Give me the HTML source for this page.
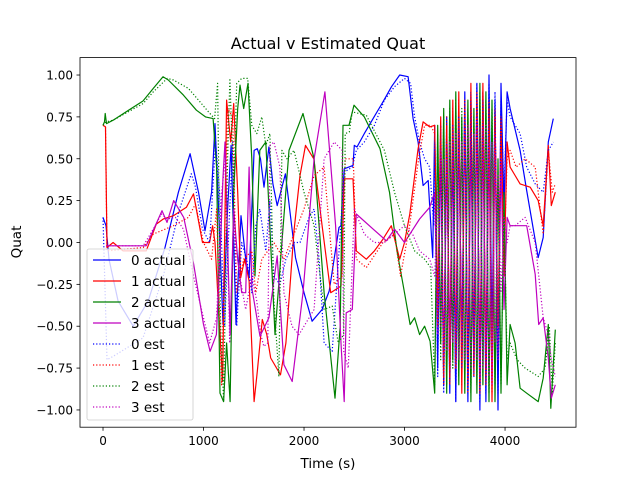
<!DOCTYPE html>
<html><head><meta charset="utf-8"><style>
body{margin:0;background:#fff}
svg{display:block;font-family:"DejaVu Sans","Liberation Sans",sans-serif}
</style></head><body>
<svg id="chart" width="640" height="480" viewBox="0 0 640 480">
<rect x="0" y="0" width="640" height="480" fill="#fff"/>
<defs><clipPath id="pc"><rect x="80" y="57.6" width="496" height="369.6"/></clipPath></defs>
<g id="series" clip-path="url(#pc)"></g>
<rect x="80" y="57.6" width="496" height="369.6" fill="none" stroke="#000" stroke-width="0.8"/>
<g id="axes"></g>
<text x="328" y="49" text-anchor="middle" font-size="16">Actual v Estimated Quat</text>
<text x="328" y="468" text-anchor="middle" font-size="13.5">Time (s)</text>
<text x="21" y="242" text-anchor="middle" font-size="13.5" transform="rotate(-90 21 242)">Quat</text>
<g id="legend"></g>
</svg>
<script>
const xTicks=[0,1000,2000,3000,4000];
const yTicks=[-1.00,-0.75,-0.50,-0.25,0.00,0.25,0.50,0.75,1.00];
const seriesNames=["0 actual","1 actual","2 actual","3 actual","0 est","1 est","2 est","3 est"];
const seriesColors=["#0000ff","#ff0000","#008000","#bf00bf","#0000ff","#ff0000","#008000","#bf00bf"];
const DENSE_T=[3300,3330,3360,3390,3420,3450,3480,3510,3540,3570,3600,3630,3660,3690,3720,3750,3780,3810,3840,3870,3900,3930,3960,3990,4020,4050];

const t0a=[0,30,60,150,300,450,617,750,866,950,1015,1080,1114,1150,1194,1240,1274,1300,1323,1373,1420,1453,1503,1535,1567,1602,1650,1690,1733,1815,1915,2000,2080,2180,2250,2348,2368,2400,2487,2500,2527,2600,2687,2786,2870,2952,3035,3085,3135,3185,3235,3280];
const v0a=[0.15,0.1,-0.1,-0.35,-0.5,-0.35,-0.03,0.3,0.53,0.3,0.07,0.3,0.71,0.2,-0.49,0.2,0.58,0.0,-0.49,0.16,-0.1,-0.21,0.55,0.56,0.5,0.33,0.57,0.35,0.22,0.41,-0.09,-0.3,-0.47,-0.4,-0.29,0.09,0.10,0.44,0.46,0.58,0.57,0.65,0.74,0.84,0.93,1.0,0.99,0.74,0.60,0.34,0.37,-0.09];
const d0a=[0.7,-0.75,0.65,-0.85,0.75,-0.9,0.6,-0.95,0.8,-0.7,0.9,-0.95,0.85,-0.8,0.95,-1.0,0.9,-0.95,1.0,-0.6,0.85,-1.0,0.95,0.2,0.9,0.8];
const tt0a=[4150,4215,4330,4380,4430,4480];
const tv0a=[0.55,0.31,-0.09,0.03,0.6,0.74];

const t1a=[0,25,40,100,200,430,530,600,700,830,900,990,1060,1090,1114,1150,1190,1230,1270,1300,1340,1370,1410,1453,1503,1535,1585,1630,1668,1766,1820,1900,1960,2015,2097,2180,2265,2368,2400,2487,2520,2620,2700,2786,2868,2952,3000,3052,3135,3185,3250];
const v1a=[0.70,0.69,-0.03,0.0,-0.05,-0.05,0.11,0.14,0.16,0.21,0.29,0.0,0.0,0.1,0.0,-0.4,-0.83,0.85,0.6,0.83,0.3,-0.21,-0.1,-0.23,-0.95,-0.77,-0.46,-0.55,-0.69,-0.79,-0.6,0.07,0.4,0.58,0.5,0.1,-0.3,-0.26,0.38,0.38,-0.05,-0.1,-0.05,0.02,0.1,-0.1,0.0,0.17,0.56,0.72,0.69];
const d1a=[0.7,-0.4,0.75,-0.85,0.7,-0.8,0.85,-0.7,0.9,-0.9,0.8,-0.85,0.95,-0.75,0.9,-0.9,0.95,-0.8,0.85,-0.95,0.8,-0.6,0.75,-0.2,0.6,0.45];
const tt1a=[4100,4150,4250,4330,4380,4430,4460,4500];
const tv1a=[0.4,0.35,0.33,0.25,0.1,0.58,0.22,0.3];

const t2a=[0,15,22,35,100,398,500,597,650,800,929,1020,1095,1130,1164,1200,1230,1264,1300,1340,1363,1400,1443,1480,1512,1560,1620,1711,1780,1850,1990,2100,2200,2308,2360,2388,2447,2497,2600,2756,2850,2925,3000,3055,3100,3150,3200,3254];
const v2a=[0.70,0.72,0.77,0.71,0.73,0.845,0.92,0.99,0.97,0.88,0.79,0.75,0.74,0.45,-0.9,-0.95,-0.6,-0.95,0.3,0.8,0.94,0.8,0.95,0.5,-0.2,0.55,0.6,-0.55,0.0,0.55,0.77,0.5,-0.3,-0.93,-0.5,0.70,0.70,0.82,0.75,0.56,0.3,-0.05,-0.3,-0.49,-0.45,-0.55,-0.5,-0.59];
const d2a=[-0.9,0.7,-0.6,0.8,-0.9,0.85,-0.7,0.9,-0.85,0.75,-0.9,0.85,-0.95,0.8,-0.9,0.95,-0.85,0.9,-0.95,0.85,-0.95,0.5,-0.9,0.3,-0.85,-0.49];
const tt2a=[4100,4150,4215,4330,4380,4430,4455,4500];
const tv2a=[-0.6,-0.87,-0.9,-0.95,-0.81,-0.49,-0.99,-0.52];

const t3a=[30,430,520,587,637,703,803,902,1000,1065,1128,1170,1194,1214,1240,1264,1300,1340,1380,1420,1453,1480,1562,1650,1733,1800,1882,1990,2100,2208,2314,2368,2400,2420,2480,2520,2687,2820,2900,3000,3085,3150,3250];
const v3a=[-0.02,-0.02,0.1,0.19,0.12,0.25,0.15,-0.13,-0.49,-0.65,-0.55,0.0,0.39,0.6,0.0,-0.55,0.2,-0.1,-0.3,-0.3,0.45,-0.27,-0.56,-0.45,-0.08,-0.73,-0.83,-0.3,0.5,0.9,0.1,-0.6,-0.95,-0.42,-0.4,0.17,0.08,0.01,0.08,0.0,0.08,0.14,0.21];
const d3a=[0.3,-0.55,0.55,-0.7,0.5,-0.6,0.65,-0.75,0.7,-0.6,0.75,-0.85,0.65,-0.7,0.75,-0.8,0.7,-0.75,0.6,-0.85,0.65,-0.7,0.5,-0.4,0.15,0.1];
const tt3a=[4100,4215,4300,4335,4380,4430,4460,4500];
const tv3a=[0.1,0.1,-0.19,-0.49,-0.45,-0.69,-0.93,-0.85];

const t0e=[0,40,100,398,600,762,878,920,990,1060,1120,1160,1210,1260,1290,1330,1380,1430,1480,1520,1560,1620,1660,1700,1760,1820,1900,1960,2050,2100,2150,2200,2280,2360,2400,2480,2520,2600,2700,2800,2900,3000,3060,3100,3150,3200,3250,3290];
const v0e=[0.15,-0.70,-0.68,-0.57,-0.2,0.2,0.41,0.33,0.08,0.0,0.6,0.3,-0.5,0.2,0.6,-0.5,0.0,-0.1,-0.3,0.1,0.2,-0.05,0.25,-0.2,-0.25,-0.1,0.0,0.0,0.15,0.2,-0.1,-0.6,-0.65,0.05,0.42,0.45,0.55,0.6,0.7,0.85,0.93,0.98,0.95,0.75,0.6,0.5,0.45,0.1];
const d0e=[0.6,-0.8,0.7,-0.9,0.6,-0.85,0.7,-0.95,0.75,-0.75,0.85,-0.9,0.9,-0.75,0.95,-0.95,0.85,-0.9,0.95,-0.7,0.9,-0.9,0.85,0.3,0.85,0.75];
const tt0e=[4150,4215,4300,4380,4430,4480];
const tv0e=[0.65,0.45,0.35,0.3,0.55,0.6];

const t1e=[0,25,40,400,500,700,850,920,1000,1080,1130,1180,1240,1290,1330,1400,1480,1520,1580,1640,1700,1800,1900,2000,2100,2200,2300,2380,2410,2490,2520,2620,2786,2900,2960,3050,3140,3200,3260];
const v1e=[0.70,0.69,-0.05,-0.03,0.05,0.1,0.15,0.23,0.0,-0.1,0.2,-0.85,0.8,0.75,-0.3,-0.1,-0.05,-0.3,-0.1,-0.05,0.0,-0.1,0.05,0.2,0.4,0.45,-0.25,-0.2,0.5,0.5,-0.1,-0.15,0.0,0.05,-0.2,0.1,0.5,0.7,0.7];
const d1e=[0.65,-0.5,0.7,-0.8,0.75,-0.85,0.8,-0.75,0.85,-0.85,0.85,-0.9,0.9,-0.8,0.85,-0.85,0.9,-0.85,0.8,-0.9,0.75,-0.5,0.7,-0.1,0.5,0.55];
const tt1e=[4110,4200,4300,4380,4430,4470,4500];
const tv1e=[0.45,0.5,0.45,0.05,0.55,0.3,0.35];

const t2e=[0,30,100,400,500,640,700,850,950,1050,1110,1140,1170,1200,1240,1262,1300,1330,1380,1440,1480,1530,1580,1620,1660,1700,1750,1780,1830,1900,2000,2100,2200,2280,2340,2395,2410,2450,2480,2620,2800,2900,3000,3100,3200,3260];
const v2e=[0.70,0.72,0.73,0.83,0.9,0.98,0.97,0.92,0.85,0.78,0.74,0.95,-0.5,-0.95,0.5,0.98,0.3,0.95,0.98,0.98,0.7,0.65,0.75,0.58,0.65,-0.35,-0.8,0.55,0.5,0.55,0.3,0.1,-0.4,-0.38,-0.6,-0.55,0.65,0.66,0.78,0.76,0.55,0.3,0.1,-0.05,-0.1,-0.15];
const d2e=[-0.85,0.65,-0.7,0.75,-0.85,0.8,-0.75,0.85,-0.8,0.8,-0.85,0.8,-0.9,0.75,-0.85,0.9,-0.8,0.85,-0.9,0.8,-0.85,0.4,-0.85,0.2,-0.7,-0.6];
const tt2e=[4120,4200,4330,4400,4440,4470,4500];
const tv2e=[-0.7,-0.75,-0.8,-0.75,-0.5,-0.9,-0.6];

const t3e=[30,400,520,580,640,720,800,900,1000,1060,1130,1180,1220,1260,1300,1360,1420,1480,1530,1570,1600,1640,1660,1700,1760,1800,1880,1950,2050,2100,2200,2300,2380,2395,2440,2500,2600,2700,2800,2900,3000,3080,3150,3250];
const v3e=[-0.02,-0.02,0.1,0.17,0.14,0.15,0.08,-0.2,-0.45,-0.6,-0.45,0.3,0.5,-0.6,0.1,-0.2,-0.4,-0.2,-0.35,-0.55,-0.62,-0.6,0.58,0.6,0.45,-0.3,-0.5,-0.55,-0.45,-0.4,0.5,0.6,0.55,-0.65,-0.75,0.2,0.05,0.0,0.0,0.05,0.1,0.05,-0.05,-0.1];
const d3e=[-0.2,0.3,-0.5,0.5,-0.65,0.6,-0.6,0.65,-0.7,0.6,-0.7,0.7,-0.75,0.65,-0.7,0.7,-0.75,0.7,-0.8,0.6,-0.6,0.4,-0.3,0.15,0.0,0.1];
const tt3e=[4100,4200,4300,4380,4430,4460,4500];
const tv3e=[0.1,0.15,0.0,-0.45,-0.55,-0.7,-0.8];

const seriesT=[t0a.concat(DENSE_T,tt0a),t1a.concat(DENSE_T,tt1a),t2a.concat(DENSE_T,tt2a),t3a.concat(DENSE_T,tt3a),t0e.concat(DENSE_T,tt0e),t1e.concat(DENSE_T,tt1e),t2e.concat(DENSE_T,tt2e),t3e.concat(DENSE_T,tt3e)];
const seriesV=[v0a.concat(d0a,tv0a),v1a.concat(d1a,tv1a),v2a.concat(d2a,tv2a),v3a.concat(d3a,tv3a),v0e.concat(d0e,tv0e),v1e.concat(d1e,tv1e),v2e.concat(d2e,tv2e),v3e.concat(d3e,tv3e)];

const NS="http://www.w3.org/2000/svg";
const X0=80,X1=576,Y0=57.6,Y1=427.2;
const xMin=-229,xMax=4706,yMin=-1.103,yMax=1.104;
function xs(t){return X0+(t-xMin)/(xMax-xMin)*(X1-X0);}
function ys(v){return Y1-(v-yMin)/(yMax-yMin)*(Y1-Y0);}
function mk(tag,attrs,parent){const e=document.createElementNS(NS,tag);for(const k in attrs)e.setAttribute(k,attrs[k]);parent.appendChild(e);return e;}

const axes=document.getElementById('axes');
xTicks.forEach(t=>{
  const l=mk('line',{x1:xs(t),x2:xs(t),y1:Y1,y2:Y1+3.5,stroke:'#000','stroke-width':0.8},axes);
  
  
  const tx=mk('text',{x:xs(t),y:Y1+18,'text-anchor':'middle','font-size':12},axes);
  tx.textContent=String(t);
  
  
});
yTicks.forEach(v=>{
  const l=mk('line',{x1:X0-3.5,x2:X0,y1:ys(v),y2:ys(v),stroke:'#000','stroke-width':0.8},axes);
  
  
  const tx=mk('text',{x:X0-7,y:ys(v)+4.5,'text-anchor':'end','font-size':12},axes);
  tx.textContent=(v<0?'\u2212':'')+Math.abs(v).toFixed(2);
  
  
});

const sg=document.getElementById('series');
seriesT.forEach((ts,i)=>{
  const vs=seriesV[i];
  const d=ts.map((t,j)=>(j?'L':'M')+xs(t).toFixed(1)+' '+ys(vs[j]).toFixed(1)).join(' ');
  const attrs={d:d,fill:'none',stroke:seriesColors[i],'stroke-width':1.2,'stroke-linejoin':'round'};
  if(i>=4)attrs['stroke-dasharray']='1.2,2';
  const p=mk('path',attrs,sg);
  
  
});

const lg=document.getElementById('legend');
const box=mk('rect',{x:87,y:249,width:106,height:171,rx:2,fill:'#fff','fill-opacity':0.8,stroke:'#ccc','stroke-width':0.8},lg);


seriesNames.forEach((n,i)=>{
  const y=260+i*21;
  const g=mk('g',{},lg);
  
  
  const la={x1:93,x2:121,y1:y,y2:y,stroke:seriesColors[i],'stroke-width':1.2};
  if(i>=4)la['stroke-dasharray']='1.2,2';
  mk('line',la,g);
  const tx=mk('text',{x:131,y:y+5,'font-size':13.5},g);
  tx.textContent=n;
});
</script>
</body></html>
